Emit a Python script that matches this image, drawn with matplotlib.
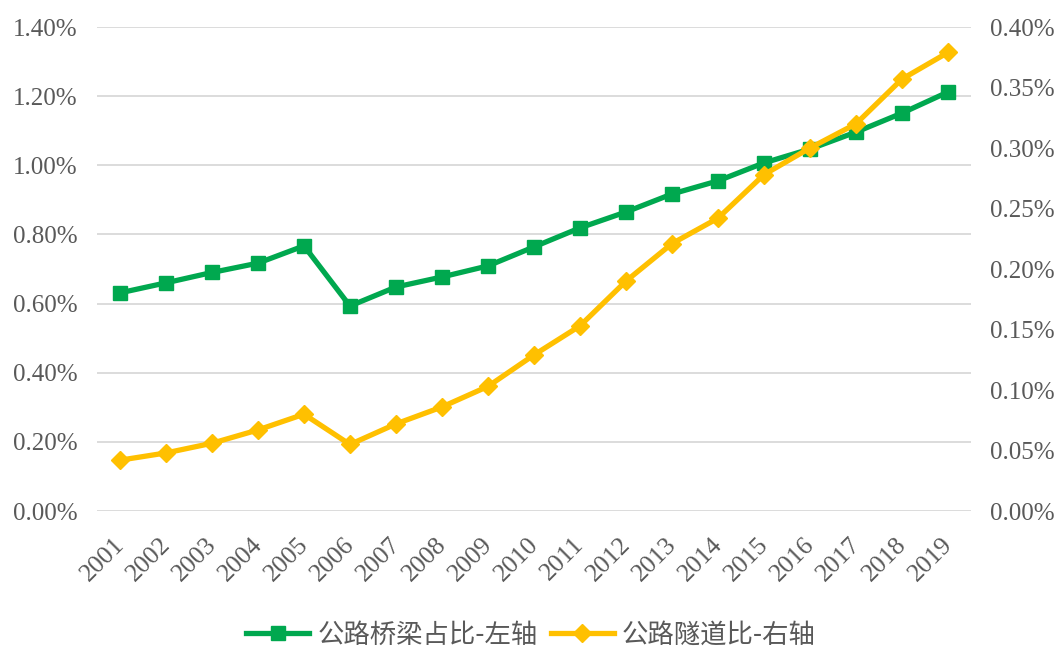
import matplotlib.pyplot as plt
from matplotlib.ticker import FuncFormatter, MultipleLocator
from matplotlib.transforms import ScaledTranslation

# Yearly shares of bridges (left axis) and tunnels (right axis) in highway mileage, in %
years = [str(y) for y in range(2001, 2020)]
bridge_share = [0.631, 0.660, 0.690, 0.717, 0.767, 0.593, 0.648, 0.677, 0.709, 0.764,
                0.819, 0.865, 0.917, 0.955, 1.007, 1.047, 1.096, 1.151, 1.212]
tunnel_share = [0.042, 0.048, 0.056, 0.067, 0.080, 0.055, 0.072, 0.086, 0.103, 0.129,
                0.153, 0.190, 0.221, 0.242, 0.278, 0.300, 0.320, 0.357, 0.379]

green = '#00A84F'
yellow = '#FFC000'
grey_text = '#595959'

plt.rcParams['font.family'] = ['Liberation Serif', 'Noto Sans CJK SC']

fig = plt.figure(figsize=(10.62, 6.48), dpi=100)
ax = fig.add_axes([0.0913, 0.2114, 0.8230, 0.7469])
ax2 = ax.twinx()

x = range(len(years))
ax.plot(x, bridge_share, color=green, lw=3.8, marker='s', markersize=10,
        label='公路桥梁占比-左轴', zorder=3)
ax2.plot(x, tunnel_share, color=yellow, lw=3.8, marker='D', markersize=9.5,
         label='公路隧道比-右轴', zorder=3)

ax.set_xlim(-0.5, len(years) - 0.5)
ax.set_ylim(0, 1.4)
ax2.set_ylim(0, 0.4)
ax.yaxis.set_major_locator(MultipleLocator(0.2))
ax2.yaxis.set_major_locator(MultipleLocator(0.05))
ax.yaxis.set_major_formatter(FuncFormatter(lambda v, p: f'{v:.2f}%'))
ax2.yaxis.set_major_formatter(FuncFormatter(lambda v, p: f'{v:.2f}%'))

ax.grid(axis='y', color='#D9D9D9', lw=1.3)
ax.set_axisbelow(True)
ax.set_xticks(list(x))
ax.set_xticklabels(years, rotation=45, ha='right', rotation_mode='anchor')

for a in (ax, ax2):
    for s in a.spines.values():
        s.set_visible(False)
    a.tick_params(length=0, labelsize=18, labelcolor=grey_text)
ax.tick_params(axis='y', pad=14)
ax2.tick_params(axis='y', pad=14)
ax.tick_params(axis='x', pad=16, labelsize=18.5)

# nudge the slanted year labels a little to the left
shift = ScaledTranslation(-7 / 100, 0, fig.dpi_scale_trans)
for lbl in ax.get_xticklabels():
    lbl.set_transform(lbl.get_transform() + shift)

handles = ax.get_lines() + ax2.get_lines()
fig.legend(handles, [h.get_label() for h in handles], loc='center',
           bbox_to_anchor=(0.5, 0.02), ncol=2, frameon=False,
           prop={'family': ['Noto Sans CJK SC'], 'size': 19},
           labelcolor=grey_text, handlelength=2.4, handletextpad=0.3, columnspacing=0.5)

fig.savefig('out.png', dpi=100)
